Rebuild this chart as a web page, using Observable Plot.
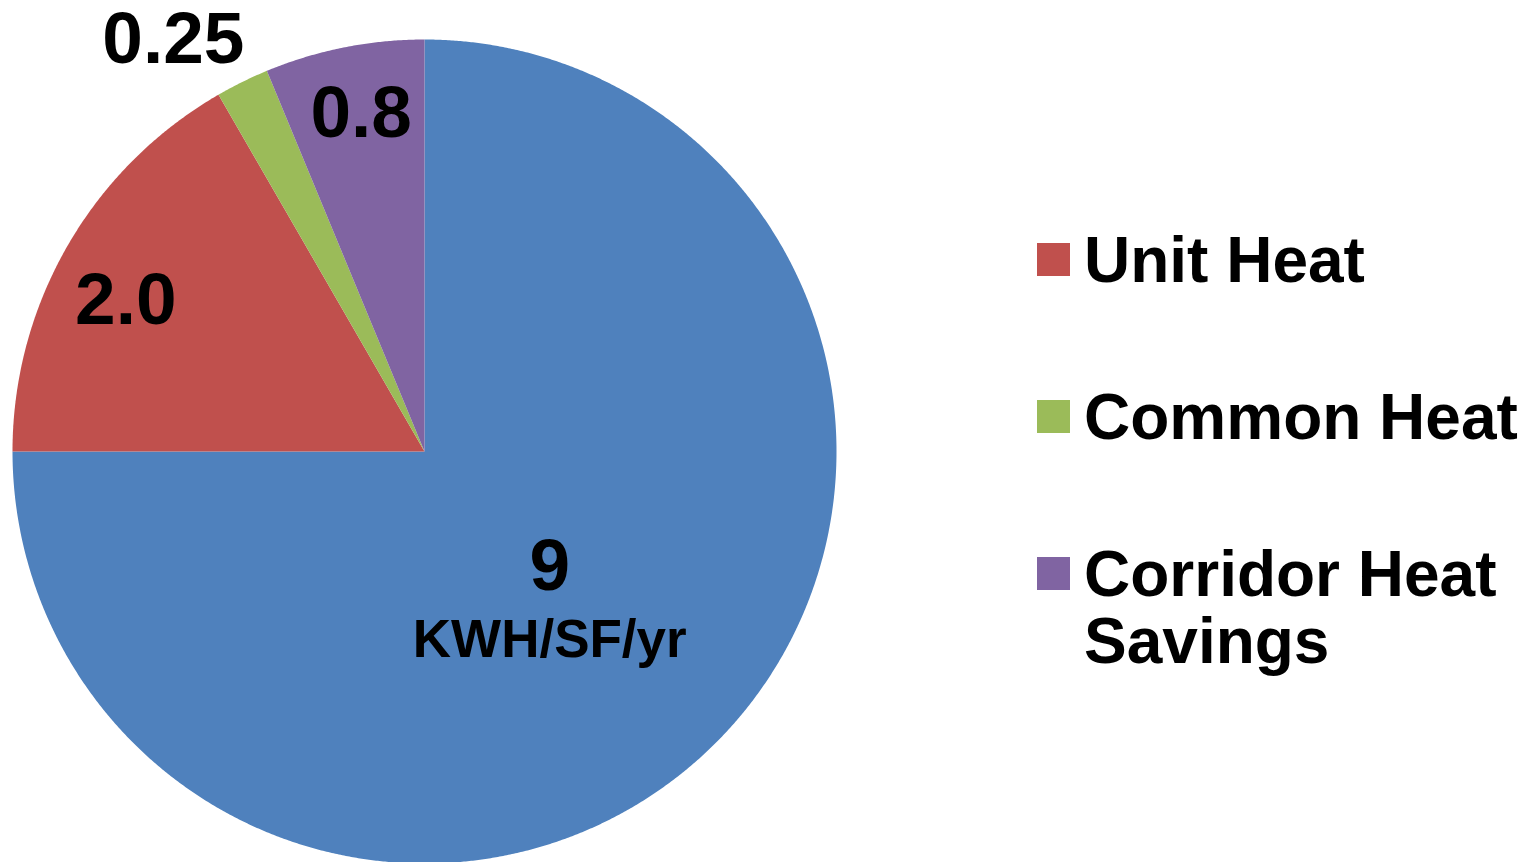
<!DOCTYPE html>
<html>
<head>
<meta charset="utf-8">
<script src="https://cdn.jsdelivr.net/npm/d3@7"></script>
<script src="https://cdn.jsdelivr.net/npm/@observablehq/plot@0.6"></script>
<style>
  html, body { margin: 0; padding: 0; background: #fff; overflow: hidden; }
  #wrap { position: relative; width: 1537px; height: 862px; }
  #legend { position: absolute; left: 1037px; top: 0; font-family: "Liberation Sans", Arial, sans-serif; font-weight: bold; font-size: 64px; line-height: 67px; color: #000; }
  .item { position: absolute; left: 0; width: 500px; }
  .sw { position: absolute; left: 0; top: 16px; width: 33px; height: 33px; }
  .lab { position: absolute; left: 47px; top: 0; width: 453px; white-space: normal; }
</style>
</head>
<body>
<div id="wrap"><div id="chart"></div><div id="legend"></div></div>
<script>
// ---- data ----
const categories = ["Base Heat", "Unit Heat", "Common Heat", "Corridor Heat Savings"];
const values = [9, 2.0, 0.25, 0.75];
const valueLabels = ["9", "2.0", "0.25", "0.8"];
const unitLabel = "KWH/SF/yr";
const colors = ["#4F81BD", "#C0504D", "#9BBB59", "#8064A2"];
const legendCategories = ["Unit Heat", "Common Heat", "Corridor Heat Savings"];

// ---- layout (not data) ----
const labelRadius = [0.43, 0.837, 1.12, 0.825];
const labelNudgePx = [[0, -10], [0, 22], [-47, 2], [3, -4.5]];
const pxPerUnit = 412;

const arcs = d3.pie().sort(null).value(d => d)(values);

// slice outlines (geometry of each wedge in unit-circle space)
const slicePts = [];
arcs.forEach((a, i) => {
  const name = categories[i];
  slicePts.push({name, x: 0, y: 0});
  const n = Math.max(2, Math.ceil((a.endAngle - a.startAngle) / (Math.PI / 720)));
  for (let k = 0; k <= n; k++) {
    const t = a.startAngle + (a.endAngle - a.startAngle) * k / n;
    slicePts.push({name, x: Math.sin(t), y: Math.cos(t)});
  }
});

const labelData = arcs.map((a, i) => {
  const mid = (a.startAngle + a.endAngle) / 2;
  const r = labelRadius[i];
  return {
    name: categories[i],
    text: valueLabels[i],
    x: Math.sin(mid) * r + labelNudgePx[i][0] / pxPerUnit,
    y: Math.cos(mid) * r - labelNudgePx[i][1] / pxPerUnit
  };
});

const font = "Liberation Sans, Arial, sans-serif";

const chart = Plot.plot({
  width: 1537,
  height: 862,
  style: {background: "white", overflow: "visible"},
  x: {domain: [-1, 1], range: [12, 836], axis: null},
  y: {domain: [-1, 1], range: [863, 39], axis: null},
  color: {domain: categories, range: colors},
  marks: [
    Plot.line(slicePts, {x: "x", y: "y", z: "name", fill: "name", stroke: "none", curve: "linear-closed"}),
    Plot.text(labelData, {x: "x", y: "y", text: "text", fontSize: 73, fontWeight: "bold", fontFamily: font, fill: "black"}),
    Plot.text(labelData.slice(0, 1), {x: "x", y: "y", text: () => unitLabel, dy: 73, fontSize: 53, fontWeight: "bold", fontFamily: font, fill: "black"})
  ]
});
document.getElementById("chart").appendChild(chart);

// legend
const legend = document.getElementById("legend");
const tops = [227, 384, 541];
legendCategories.forEach((c, i) => {
  const item = document.createElement("div");
  item.className = "item";
  item.style.top = tops[i] + "px";
  const sw = document.createElement("div");
  sw.className = "sw";
  sw.style.background = colors[categories.indexOf(c)];
  const lab = document.createElement("div");
  lab.className = "lab";
  lab.textContent = c;
  item.appendChild(sw);
  item.appendChild(lab);
  legend.appendChild(item);
});
</script>
</body>
</html>
